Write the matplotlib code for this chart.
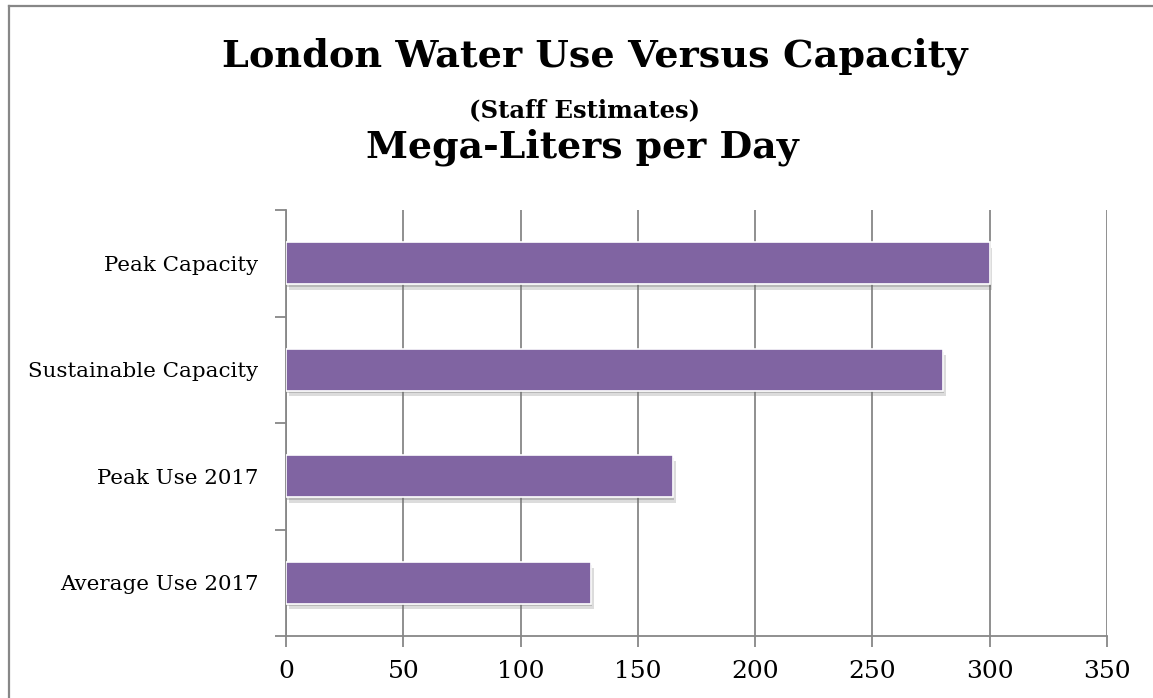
import matplotlib
matplotlib.use("Agg")
import matplotlib.pyplot as plt
from matplotlib import patheffects as pe
from matplotlib.lines import Line2D

categories = ["Average Use 2017", "Peak Use 2017", "Sustainable Capacity", "Peak Capacity"]
values = [130, 165, 280, 300]
xticks = [0, 50, 100, 150, 200, 250, 300, 350]

W, H = 1153, 698
fig = plt.figure(figsize=(W / 100, H / 100), dpi=100)
ax = fig.add_axes([286 / W, 1 - 636 / H, (1107 - 286) / W, (636 - 210) / H])

serif = ["DejaVu Serif"]
gray = "#878787"

ypos = list(range(len(categories)))
bars = ax.barh(ypos, values, height=0.39, color="#8064A2", edgecolor="white",
               linewidth=1.2, zorder=3)
for b in bars:
    b.set_path_effects([pe.SimplePatchShadow(offset=(2, -4), shadow_rgbFace="#777777", alpha=0.25),
                        pe.SimplePatchShadow(offset=(1, -2), shadow_rgbFace="#666666", alpha=0.3),
                        pe.Normal()])

ax.set_xlim(0, 350)
ax.set_ylim(-0.5, len(categories) - 0.5)
ax.set_xticks(xticks)
ax.set_xticklabels([str(t) for t in xticks], fontfamily=serif, fontsize=18)
ax.set_yticks([i - 0.5 for i in range(len(categories) + 1)], minor=False)
ax.set_yticklabels([])
ax.set_yticks(ypos, minor=True)
ax.set_yticklabels(categories, minor=True, fontfamily=serif, fontsize=15.4)
ax.tick_params(axis="y", which="minor", length=0, pad=20)
ax.tick_params(axis="y", which="major", length=8, width=1.3, color=gray, direction="out")
ax.tick_params(axis="x", length=8, width=1.3, color=gray, direction="out", pad=9)

ax.grid(axis="x", color=gray, linewidth=1.3, zorder=0)
ax.set_axisbelow(True)
for s in ["top", "right"]:
    ax.spines[s].set_visible(False)
for s in ["left", "bottom"]:
    ax.spines[s].set_color(gray)
    ax.spines[s].set_linewidth(1.3)

fig.text(595 / W, 1 - 56 / H, "London Water Use Versus Capacity", ha="center", va="center",
         fontfamily=serif, fontweight="bold", fontsize=27.5)
fig.text(584 / W, 1 - 110 / H, "(Staff Estimates)", ha="center", va="center",
         fontfamily=serif, fontweight="bold", fontsize=17.5)
fig.text(582 / W, 1 - 147 / H, "Mega-Liters per Day", ha="center", va="center",
         fontfamily=serif, fontweight="bold", fontsize=27.3)

fig.add_artist(Line2D([8.5 / W, 1], [1 - 5.5 / H, 1 - 5.5 / H], color=gray, linewidth=1.6,
                      transform=fig.transFigure))
fig.add_artist(Line2D([8.5 / W, 8.5 / W], [0, 1 - 5.5 / H], color=gray, linewidth=1.6,
                      transform=fig.transFigure))

fig.savefig("out.png", dpi=100)
